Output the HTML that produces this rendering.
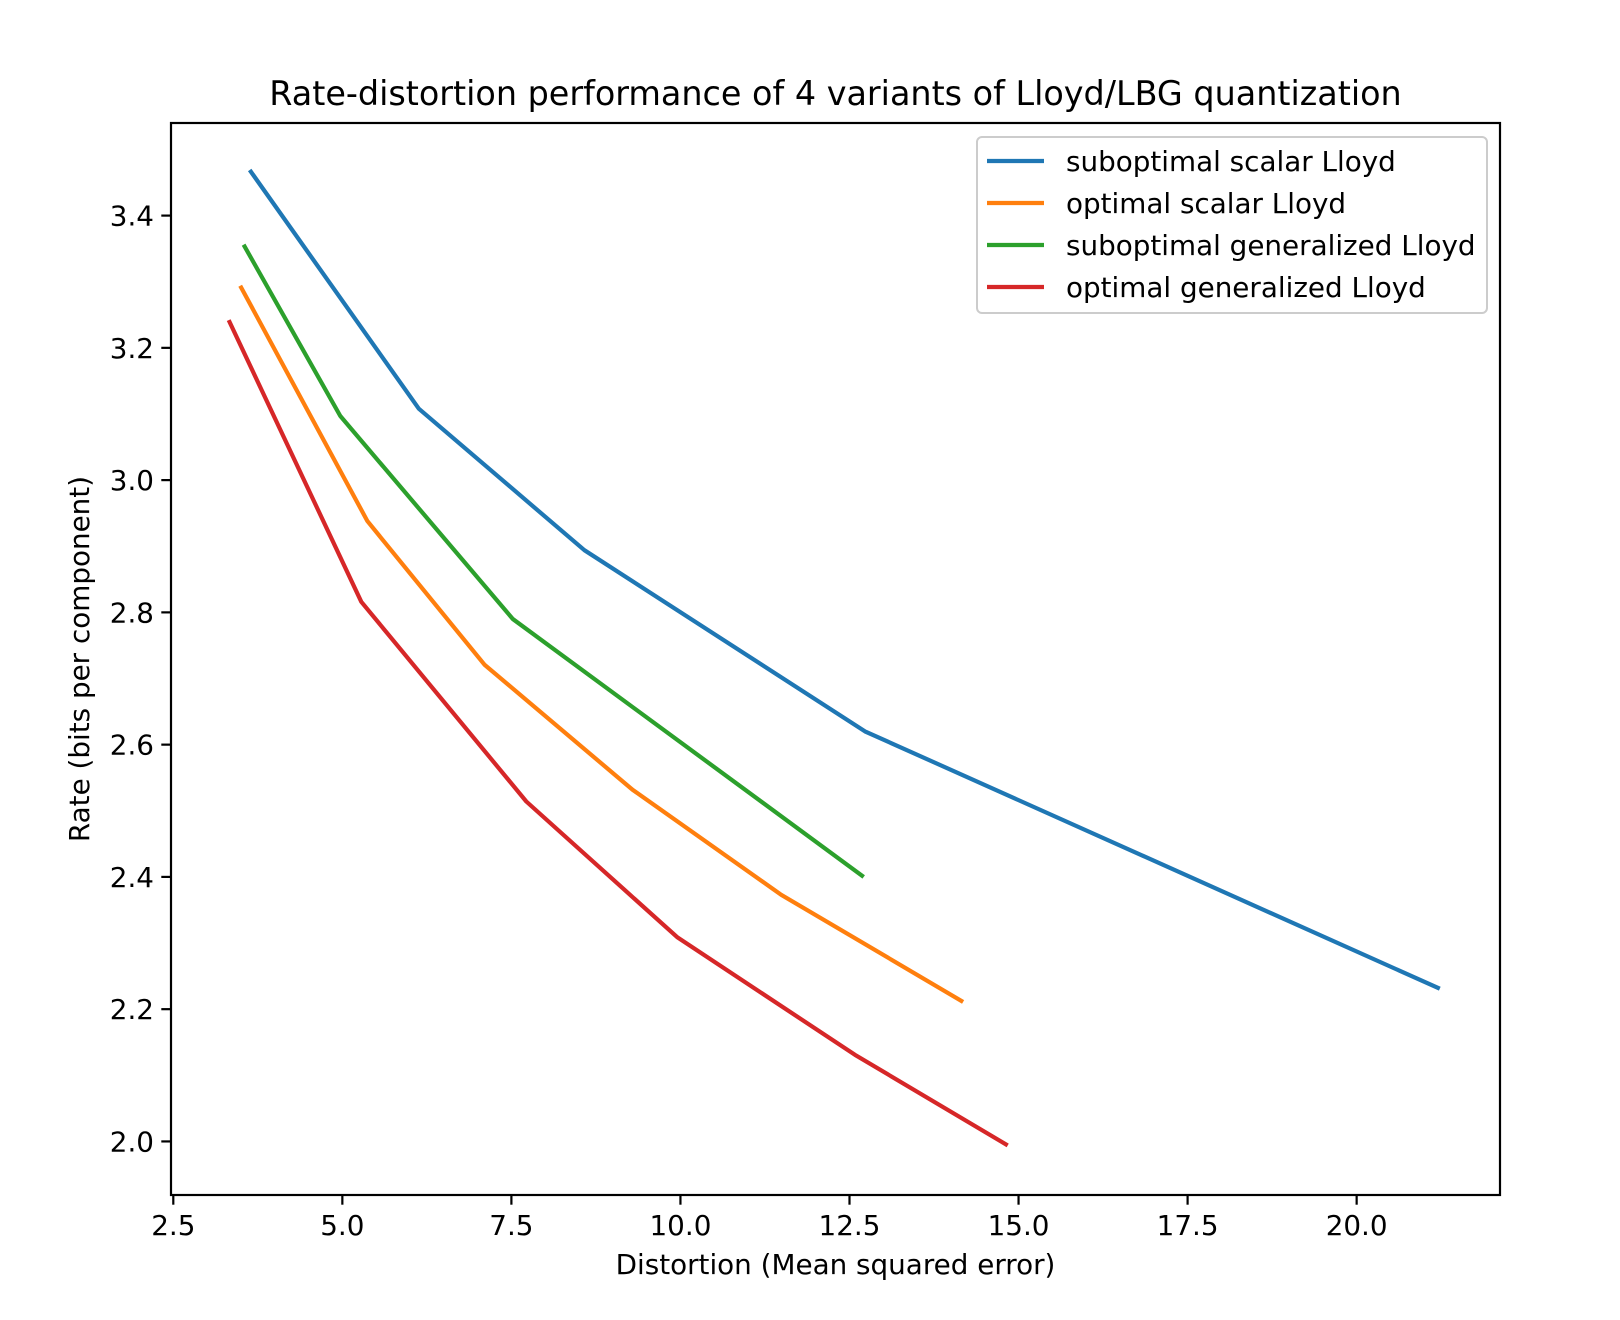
<!DOCTYPE html>
<html><head><meta charset="utf-8"><style>
html,body{margin:0;padding:0;background:#fff;}
svg{display:block;font-family:"DejaVu Sans","Liberation Sans",sans-serif;}
</style></head><body>
<svg id="chart" width="1620" height="1320" viewBox="0 0 1620 1320" xmlns="http://www.w3.org/2000/svg">
<rect width="1620" height="1320" fill="#fff"/>
<text x="835.5" y="105" font-size="33.4" text-anchor="middle">Rate-distortion performance of 4 variants of Lloyd/LBG quantization</text>
<g id="plot"></g>
<rect x="171" y="123" width="1329" height="1072" fill="none" stroke="#000" stroke-width="2.2"/>
<text x="835.5" y="1274" font-size="27.8" text-anchor="middle">Distortion (Mean squared error)</text>
<text transform="translate(89,659) rotate(-90)" font-size="27.8" text-anchor="middle">Rate (bits per component)</text>
<g id="legend">
<rect x="977" y="137" width="510" height="176" rx="5" fill="#fff" fill-opacity="0.8" stroke="#ccc" stroke-width="2"/>
</g>
</svg>
<script>
const seriesNames = ["suboptimal scalar Lloyd","optimal scalar Lloyd","suboptimal generalized Lloyd","optimal generalized Lloyd"];
const seriesColors = ["#1f77b4","#ff7f0e","#2ca02c","#d62728"];
const blueX = [3.63, 6.13, 8.58, 12.73, 21.23];
const blueY = [3.469, 3.108, 2.894, 2.620, 2.231];
const orangeX = [3.49, 5.37, 7.10, 9.29, 11.49, 14.18];
const orangeY = [3.294, 2.938, 2.721, 2.532, 2.373, 2.211];
const greenX = [3.54, 4.97, 7.52, 12.71];
const greenY = [3.356, 3.097, 2.790, 2.400];
const redX = [3.32, 5.28, 7.72, 9.95, 12.58, 14.84];
const redY = [3.242, 2.816, 2.514, 2.309, 2.131, 1.994];
const xTicks = [2.5, 5.0, 7.5, 10.0, 12.5, 15.0, 17.5, 20.0];
const yTicks = [2.0, 2.2, 2.4, 2.6, 2.8, 3.0, 3.2, 3.4];

const NS = "http://www.w3.org/2000/svg";
const L = 171, R = 1500, T = 123, B = 1195;
const xMin = 2.466, xMax = 22.12, yMin = 1.919, yMax = 3.540;
function sx(v){ return L + (v - xMin) / (xMax - xMin) * (R - L); }
function sy(v){ return B - (v - yMin) / (yMax - yMin) * (B - T); }
const plot = document.getElementById('plot');
function mk(tag, attrs, parent){
  const e = document.createElementNS(NS, tag);
  for (const k in attrs) e.setAttribute(k, attrs[k]);
  parent.appendChild(e); return e;
}
xTicks.forEach(v => {
  const g = mk('g', {}, plot);
  
  
  mk('line', {x1:sx(v), x2:sx(v), y1:B, y2:B+9.7, stroke:'#000', 'stroke-width':2.2}, g);
  const t = mk('text', {x:sx(v), y:B+40, 'font-size':27.8, 'text-anchor':'middle'}, g);
  t.textContent = v.toFixed(1);
});
yTicks.forEach(v => {
  const g = mk('g', {}, plot);
  
  
  mk('line', {x1:L-9.7, x2:L, y1:sy(v), y2:sy(v), stroke:'#000', 'stroke-width':2.2}, g);
  const t = mk('text', {x:L-17, y:sy(v)+10, 'font-size':27.8, 'text-anchor':'end'}, g);
  t.textContent = v.toFixed(1);
});
const allX = [blueX, orangeX, greenX, redX];
const allY = [blueY, orangeY, greenY, redY];
const lineNames = ['line-suboptimal-scalar','line-optimal-scalar','line-suboptimal-generalized','line-optimal-generalized'];
allX.forEach((xs, i) => {
  const pts = xs.map((x, j) => sx(x).toFixed(1) + ',' + sy(allY[i][j]).toFixed(1)).join(' ');
  const pl = mk('polyline', {points:pts, fill:'none', stroke:seriesColors[i], 'stroke-width':4.2, 'stroke-linejoin':'round'}, plot);
  
  
});
const legend = document.getElementById('legend');
seriesNames.forEach((n, i) => {
  const y = 161 + i * 42;
  const g = mk('g', {}, legend);
  
  
  mk('line', {x1:987, x2:1044, y1:y, y2:y, stroke:seriesColors[i], 'stroke-width':4.2}, g);
  const t = mk('text', {x:1066, y:y+10, 'font-size':27.8}, g);
  t.textContent = n;
});
</script>
</body></html>
